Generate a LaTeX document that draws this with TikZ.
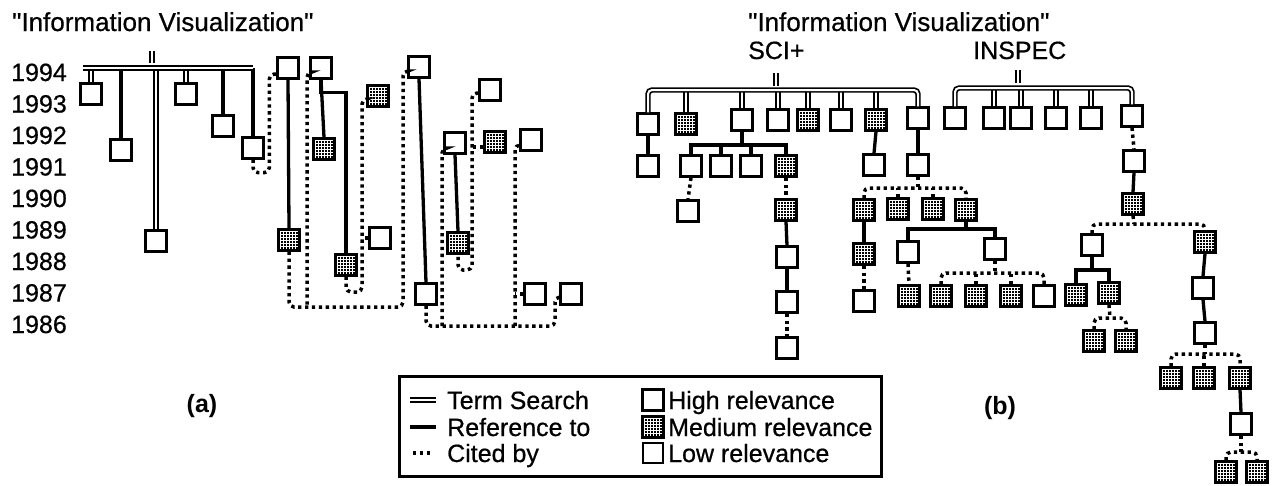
\documentclass[tikz,border=0pt]{standalone}
\usepackage{fontspec}
\setmainfont{Liberation Sans}[Ligatures=TeXOff]
\newfontfamily\heavy{Liberation Sans}[Ligatures=TeXOff, FakeBold=0.6]
\usetikzlibrary{calc}
\begin{document}
\begin{tikzpicture}[x=1pt,y=-1pt,
  box/.style={draw, line width=2.8pt, minimum size=20.5pt, inner sep=0pt, fill=white},
  hi/.style={box},
  med/.style={box, fill=black, path picture={
    \foreach \k in {-9,-6,...,9}{
      \draw[white, line width=0.9pt] ([xshift=\k pt]path picture bounding box.north) -- ([xshift=\k pt]path picture bounding box.south);
      \draw[white, line width=0.9pt] ([yshift=\k pt]path picture bounding box.west) -- ([yshift=\k pt]path picture bounding box.east);
    }}},
  ref/.style={line width=3.3pt},
  cite/.style={line width=3.5pt, dash pattern=on 3.3pt off 3.6pt, rounded corners=5pt},
  term/.style={double, line width=1.7pt, double distance=2pt, rounded corners=4pt},
  lbl/.style={inner sep=0pt, font=\heavy\fontsize{25}{30}\selectfont},
  ttl/.style={inner sep=0pt, font=\heavy\fontsize{26}{30}\selectfont},
]
\useasboundingbox (0,0) rectangle (1274,485);

% ---------- (a) titles and year axis ----------
\node[ttl, anchor=base west] (titlea) at (12,31) {"Information Visualization"};
\foreach \yr [count=\i from 0] in {1994,1993,...,1986}
  \node[lbl, anchor=base east] (yr\yr) at (67,{81+\i*31.5}) {\yr};

% ---------- (a) documents ----------
\node[hi] (a1) at (91,94) {};
\node[hi] (a2) at (121,150) {};
\node[hi] (a3) at (156,241) {};
\node[hi] (a4) at (186,94) {};
\node[hi] (a5) at (223,126) {};
\node[hi] (a6) at (253,148) {};
\node[hi] (b1) at (288,68) {};
\node[hi] (b2) at (321,68) {};
\node[med] (b3) at (378,96) {};
\node[hi] (b4) at (419,67) {};
\node[hi] (b5) at (490,90) {};
\node[hi] (b6) at (455,143) {};
\node[med] (b7) at (495,142) {};
\node[hi] (b8) at (531,140) {};
\node[med] (b9) at (324,149) {};
\node[med] (b10) at (289,240) {};
\node[med] (b11) at (458,243) {};
\node[med] (b12) at (346,265) {};
\node[hi] (b13) at (380,238) {};
\node[hi] (b14) at (426,294) {};
\node[hi] (b15) at (535,294) {};
\node[hi] (b16) at (571,294) {};

% term search bar and its hits
\coordinate (abar1) at (83,68);
\coordinate (abar2) at (253,68);
\draw[term] (a1.north) -- (a1.north |- abar1);
\draw[ref] (a2.north) -- (a2.north |- abar1);
\draw[term] (a3.north) -- (a3.north |- abar1);
\draw[term] (a4.north) -- (a4.north |- abar1);
\draw[ref] (a5.north) -- (a5.north |- abar1);
\draw[ref] (a6.north) -- (abar2);
\draw[term] (abar1) -- (abar2);
\draw[term] (152,51) -- (152,63);

% references and citations
\draw[cite] (a6.south) -- ++(0,13) -| ($(b1.west)+(-7,6)$) -- ([yshift=-6pt]b1.west);
\draw[ref] (b1.south) -- (b10.north);
\coordinate (ja) at (403,307);
\draw[cite] (b10.south) |- (ja) |- ([yshift=-4pt]b4.west);
\coordinate (jb) at (307,307);
\draw[cite] ([yshift=-4pt]b2.west) -| (jb);
\draw[ref] (b2.south) -- (b9.north);
\draw[ref] (b2.south) -- ++(0,13) -| (b12.north);
\coordinate (jc) at (362,292);
\draw[cite] (b12.south) |- (jc) |- ([yshift=-3pt]b3.west);
\draw[cite] (b13.west) -- (b13.west -| jc);
\draw[ref] (b4.south) -- (b14.north);
\coordinate (jd) at (442,326);
\coordinate (je) at (515,326);
\coordinate (jf) at (555,326);
\draw[cite] (b14.south) |- (jf) |- ([yshift=-3pt]b16.west);
\draw[cite] (jd) |- ([yshift=-5pt]b6.west);
\draw[cite] (je) |- ([yshift=-5pt]b8.west);
\draw[cite] (b15.west) -- (b15.west -| je);
\coordinate (jg) at (472,270);
\draw[cite] ([yshift=-3pt]b5.west) -| (jg) -| (b11.south);
\draw[cite] ($(b7.west)+(0,5)$) -- ++(-12,0);
\draw[ref] (b6.south) -- (b11.north);

\node[inner sep=0pt, anchor=base, font=\bfseries\fontsize{25}{30}\selectfont] (laba) at (202,412) {(a)};

% ---------- (b) titles ----------
\node[ttl, anchor=base west] (titleb) at (748,31) {"Information Visualization"};
\node[lbl, anchor=base west] (sci) at (748,59) {SCI+};
\node[lbl, anchor=base west] (inspec) at (973,59) {INSPEC};

% ---------- (b) SCI+ tree ----------
\node[hi] (s1) at (648,124) {};
\node[med] (s2) at (686,124) {};
\node[hi] (s3) at (742,120) {};
\node[hi] (s4) at (778,120) {};
\node[med] (s5) at (808,120) {};
\node[hi] (s6) at (841,120) {};
\node[med] (s7) at (876,120) {};
\node[hi] (s8) at (918,118) {};
\node[hi] (t1) at (648,166) {};
\node[hi] (t2) at (691,166) {};
\node[hi] (t3) at (721,166) {};
\node[hi] (t4) at (751,166) {};
\node[med] (t5) at (786,166) {};
\node[hi] (t6) at (874,165) {};
\node[hi] (t7) at (918,165) {};
\node[hi] (u1) at (688,211) {};
\node[med] (u2) at (786,210) {};
\node[hi] (u3) at (787,257) {};
\node[hi] (u4) at (787,302) {};
\node[hi] (u5) at (787,348) {};
\node[med] (v1) at (864,210) {};
\node[med] (v2) at (898,209) {};
\node[med] (v3) at (933,209) {};
\node[med] (v4) at (966,210) {};
\node[med] (w1) at (864,254) {};
\node[hi] (w2) at (864,301) {};
\node[hi] (x1) at (908,252) {};
\node[hi] (x2) at (995,249) {};
\node[med] (y1) at (909,296) {};
\node[med] (y2) at (941,296) {};
\node[med] (y3) at (976,296) {};
\node[med] (y4) at (1011,296) {};
\node[hi] (y5) at (1044,296) {};

\coordinate (sbar) at (780,90);
\foreach \n in {s2,s3,s4,s5,s6,s7}
  \draw[term] (\n.north) -- (\n.north |- sbar);
\draw[term] (s1.north) |- (sbar) -| (s8.north);
\draw[term] (776,73) -- (776,86);

\draw[ref] (s1.south) -- (t1.north);
\coordinate (s3j) at (742,145);
\draw[ref] (s3.south) -- (s3j);
\draw[ref] (t2.north) |- (s3j) -| (t5.north);
\draw[ref] (t3.north) -- (t3.north |- s3j);
\draw[ref] (t4.north) -- (t4.north |- s3j);
\draw[ref] (s7.south) -- (t6.north);
\draw[ref] (s8.south) -- (t7.north);
\draw[cite] (t2.south) -- (u1.north);
\draw[cite] (t5.south) -- (u2.north);
\draw[ref] (u2.south) -- (u3.north);
\draw[ref] (u3.south) -- (u4.north);
\draw[cite] (u4.south) -- (u5.north);
\coordinate (t7j) at (918,188);
\draw[cite] (t7.south) -- (t7j);
\draw[cite] (v1.north) |- (t7j) -| (v4.north);
\draw[cite] (v2.north) -- (v2.north |- t7j);
\draw[cite] (v3.north) -- (v3.north |- t7j);
\draw[ref] (v1.south) -- (w1.north);
\draw[cite] (w1.south) -- (w2.north);
\coordinate (v4j) at (966,229);
\draw[ref] (v4.south) -- (v4j);
\draw[ref] (x1.north) |- (v4j) -| (x2.north);
\draw[cite] (x1.south) -- (y1.north);
\coordinate (x2j) at (995,273);
\draw[cite] (x2.south) -- (x2j);
\draw[cite] (y2.north) |- (x2j) -| (y5.north);
\draw[cite] (y3.north) -- (y3.north |- x2j);
\draw[cite] (y4.north) -- (y4.north |- x2j);

% ---------- (b) INSPEC tree ----------
\node[hi] (i1) at (955,118) {};
\node[hi] (i2) at (994,118) {};
\node[hi] (i3) at (1021,118) {};
\node[hi] (i4) at (1056,118) {};
\node[hi] (i5) at (1091,118) {};
\node[hi] (i6) at (1132,116) {};
\node[hi] (q2) at (1134,161) {};
\node[med] (q3) at (1133,204) {};
\node[hi] (aa) at (1092,245) {};
\node[med] (bb) at (1205,242) {};
\node[med] (z1) at (1076,295) {};
\node[med] (z2) at (1109,293) {};
\node[med] (zz1) at (1094,341) {};
\node[med] (zz2) at (1126,341) {};
\node[hi] (cc) at (1203,288) {};
\node[hi] (dd) at (1205,333) {};
\node[med] (ee1) at (1171,378) {};
\node[med] (ee2) at (1204,378) {};
\node[med] (ee3) at (1240,378) {};
\node[hi] (ff) at (1241,424) {};
\node[med] (gg1) at (1226,472) {};
\node[med] (gg2) at (1257,472) {};

\coordinate (ibar) at (1040,88);
\foreach \n in {i2,i3,i4,i5}
  \draw[term] (\n.north) -- (\n.north |- ibar);
\draw[term] (i1.north) |- (ibar) -| (i6.north);
\draw[term] (1018,70) -- (1018,83);

\draw[cite] (i6.south) -- (q2.north);
\draw[ref] (q2.south) -- (q3.north);
\coordinate (q3j) at (1134,224);
\draw[cite] (q3.south) -- (q3j);
\draw[cite] (aa.north) |- (q3j) -| (bb.north);
\coordinate (aaj) at (1092,270);
\draw[ref] (aa.south) -- (aaj);
\draw[ref] (z1.north) |- (aaj) -| (z2.north);
\coordinate (z2j) at (1110,318);
\draw[cite] (z2.south) -- (z2j);
\draw[cite] (zz1.north) |- (z2j) -| (zz2.north);
\draw[ref] (bb.south) -- (cc.north);
\draw[ref] (cc.south) -- (dd.north);
\coordinate (ddj) at (1205,354);
\draw[cite] (dd.south) -- (ddj);
\draw[cite] (ee1.north) |- (ddj) -| (ee3.north);
\draw[cite] (ee2.north) -- (ee2.north |- ddj);
\draw[ref] (ee3.south) -- (ff.north);
\coordinate (ffj) at (1241,452);
\draw[cite] (ff.south) -- (ffj);
\draw[cite] (gg1.north) |- (ffj) -| (gg2.north);

\node[inner sep=0pt, anchor=base, font=\bfseries\fontsize{25}{30}\selectfont] (labb) at (1000,414) {(b)};

% ---------- legend ----------
\node[draw, line width=2.8pt, minimum width=482pt, minimum height=100pt, inner sep=0pt, anchor=north west] (legend) at (398,375) {};
\draw[term] (410,400) -- (436,400);
\draw[ref] (410,427) -- (436,427);
\draw[cite] (413,453) -- (430,453);
\node[lbl, anchor=base west] (lt1) at (447,409) {Term Search};
\node[lbl, anchor=base west] (lt2) at (447,436) {Reference to};
\node[lbl, anchor=base west] (lt3) at (447,462) {Cited by};
\node[hi] (lk1) at (653,400) {};
\node[med] (lk2) at (653,427) {};
\node[box, line width=1.8pt] (lk3) at (653,453) {};
\node[lbl, anchor=base west] (lr1) at (668,409) {High relevance};
\node[lbl, anchor=base west] (lr2) at (668,436) {Medium relevance};
\node[lbl, anchor=base west] (lr3) at (668,462) {Low relevance};
\end{tikzpicture}
\end{document}
